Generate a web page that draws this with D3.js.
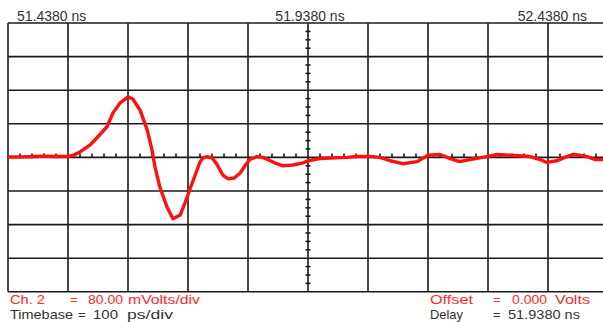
<!DOCTYPE html>
<html>
<head>
<meta charset="utf-8">
<script src="https://cdn.jsdelivr.net/npm/d3@7"></script>
<style>
  html, body { margin: 0; padding: 0; background: #fff; }
  svg { display: block; }
  text { font-family: "Liberation Sans", Arial, sans-serif; font-size: 14px; }
  text.readout { font-size: 13px; }
</style>
</head>
<body>
<svg id="scope"></svg>
<script>
// Waveform samples: time offset from left edge (ps) and voltage (mV)
const timePs = [0, 20, 45, 62, 78, 100, 110, 120, 137, 153, 165, 175, 187, 200, 208, 220, 232, 240, 245, 253,
  265, 275, 287, 295, 307, 320, 325, 332, 340, 348, 358, 367, 377, 387, 395, 403, 415, 425, 437, 448,
  458, 475, 492, 500, 520, 545, 565, 582, 603, 620, 637, 658, 682, 700, 720, 737, 753, 770, 798, 815,
  837, 870, 887, 898, 915, 928, 942, 953, 965, 978, 992];
const voltsMv = [1, 1, 2, 3, 2, 2, 6, 13, 30, 54, 73, 106, 130, 144, 139, 113, 65, 18, -23, -70,
  -118, -146, -137, -108, -61, -11, -1, 2, -1, -16, -42, -51, -49, -37, -20, -5, 2, 0, -8, -15,
  -20, -18, -13, -8, -3, -1, 0, 2, 2, 0, -8, -15, -10, 5, 7, -3, -10, -5, 2, 7,
  5, 2, -5, -12, -8, 0, 7, 5, 2, -5, -5];

// Axis labels / readouts
const timeLabels = ["51.4380 ns", "51.9380 ns", "52.4380 ns"];
const readoutRed = [["Ch. 2", "=", "80.00", "mVolts/div"], ["Offset", "=", "0.000", "Volts"]];
const readoutBlack = [["Timebase", "=", "100", "ps/div"], ["Delay", "=", "51.9380 ns"]];

const W = 603, H = 322;
const plot = { left: 8, top: 23, divX: 60, divY: 33.6, nx: 10, ny: 8 };
const right = plot.left + plot.divX * plot.nx;
const bottom = plot.top + plot.divY * plot.ny;

const svg = d3.select("#scope").attr("width", W).attr("height", H);

// 100 ps/div, 80 mV/div
const x = d3.scaleLinear().domain([0, 1000]).range([plot.left, right]);
const y = d3.scaleLinear().domain([-320, 320]).range([bottom, plot.top]);

const grid = svg.append("g").attr("stroke", "#1a1a1a").attr("stroke-width", 1.6);

// vertical divisions
grid.selectAll("line.v")
  .data(d3.range(0, 1001, 100))
  .join("line")
  .attr("x1", d => x(d)).attr("x2", d => x(d))
  .attr("y1", plot.top).attr("y2", bottom);

// horizontal divisions
grid.selectAll("line.h")
  .data(d3.range(-320, 321, 80))
  .join("line")
  .attr("x1", plot.left).attr("x2", right)
  .attr("y1", d => y(d)).attr("y2", d => y(d));

// minor ticks on the centre horizontal line (5 per div)
grid.selectAll("line.mx")
  .data(d3.range(0, 1000, 20).filter(d => d % 100 !== 0))
  .join("line")
  .attr("x1", d => x(d)).attr("x2", d => x(d))
  .attr("y1", y(0)).attr("y2", y(0) - 4);

// minor ticks on the centre vertical line (4 per div)
grid.selectAll("line.my")
  .data(d3.range(-320, 320, 20).filter(d => d % 80 !== 0))
  .join("line")
  .attr("x1", x(500) - 2.5).attr("x2", x(500) + 2.5)
  .attr("y1", d => y(d)).attr("y2", d => y(d));

// trace
const line = d3.line()
  .x((d, i) => x(timePs[i]))
  .y(d => y(d));

svg.append("path")
  .datum(voltsMv)
  .attr("fill", "none")
  .attr("stroke", "#ff1010")
  .attr("stroke-width", 3.4)
  .attr("stroke-linejoin", "round")
  .attr("d", line);

// time labels on top
svg.selectAll("text.time")
  .data(timeLabels)
  .join("text")
  .attr("class", "time")
  .attr("x", (d, i) => [17, 310, 587][i])
  .attr("y", 21)
  .attr("text-anchor", (d, i) => ["start", "middle", "end"][i])
  .attr("fill", "#333")
  .text(d => d);

// readouts (x start and rough width of each piece, from the picture)
const redX = [[10, 70, 88, 128], [430, 493, 512, 555]];
const redW = [[35, 0, 35, 72], [43, 0, 35, 35]];
const blackX = [[10, 78, 93, 127], [430, 493, 508]];
const blackW = [[63, 0, 25, 46], [33, 0, 72]];

function readout(rows, xs, ws, yy, color) {
  rows.forEach((row, r) => {
    row.forEach((s, k) => {
      const t = svg.append("text")
        .attr("class", "readout")
        .attr("x", xs[r][k])
        .attr("y", yy)
        .attr("fill", color)
        .text(s);
      if (ws[r][k]) t.attr("textLength", ws[r][k]).attr("lengthAdjust", "spacingAndGlyphs");
    });
  });
}
readout(readoutRed, redX, redW, 303.5, "#ff2a2a");
readout(readoutBlack, blackX, blackW, 318.5, "#333");
</script>
</body>
</html>
